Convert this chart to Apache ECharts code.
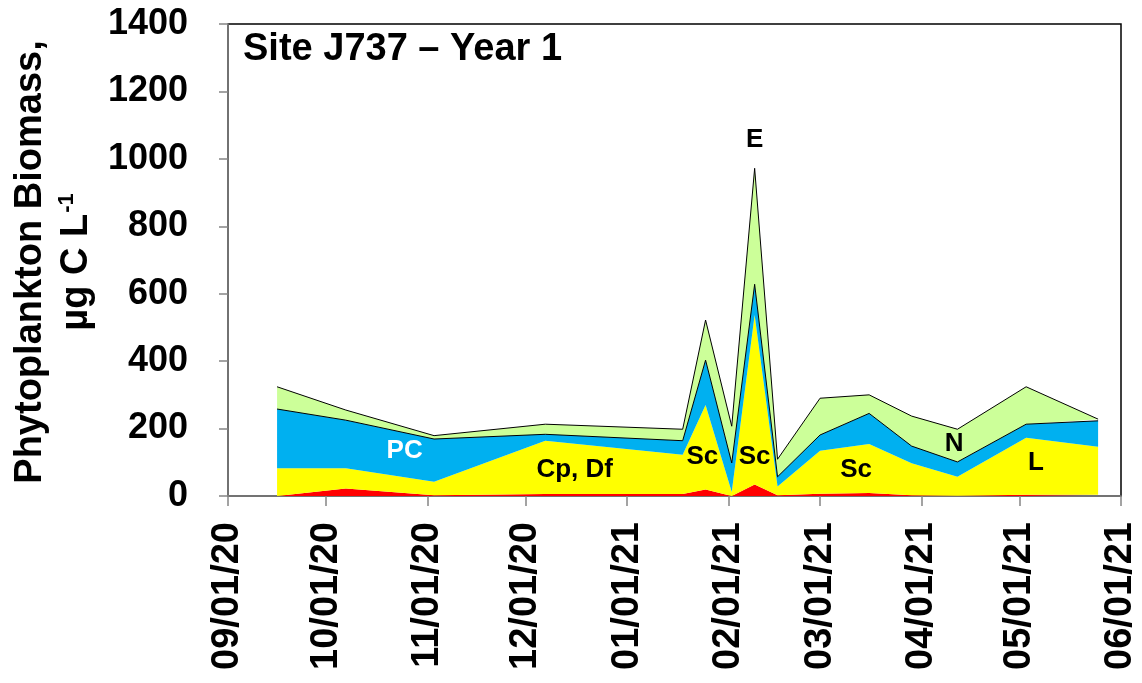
<!DOCTYPE html>
<html>
<head>
<meta charset="utf-8">
<title>Phytoplankton Biomass – Site J737 Year 1</title>
<script src="https://cdn.jsdelivr.net/npm/echarts@6/dist/echarts.min.js"></script>
<style>
  html, body { margin: 0; padding: 0; background: #fff; }
  #chart { width: 1142px; height: 683px; }
</style>
</head>
<body>
<div id="chart"></div>
<script>
// Sampling dates
const sampleDates = [
  '2020-09-16', '2020-10-07', '2020-11-03', '2020-12-07', '2021-01-18',
  '2021-01-25', '2021-02-02', '2021-02-09', '2021-02-16', '2021-03-01',
  '2021-03-16', '2021-03-29', '2021-04-12', '2021-05-03', '2021-05-25'
];

// Biomass by group, µg C L-1 (stacked bottom to top)
const redGroup    = [0, 22, 2, 6, 6, 19, 0, 34, 2, 7, 9, 2, 1, 4, 4];
const yellowGroup = [82, 60, 40, 158, 116, 251, 12, 503, 26, 127, 145, 95, 56, 169, 142];
const blueGroup   = [176, 143, 127, 19, 42, 133, 86, 91, 29, 47, 91, 51, 44, 40, 77];
const greenGroup  = [66, 30, 10, 30, 34, 119, 109, 344, 52, 109, 55, 89, 97, 111, 5];

// Dominant taxa labels: [date, biomass level, text, colour]
const taxaLabels = [
  ['2020-10-25', 133, 'PC', '#ffffff'],
  ['2020-12-16', 77, 'Cp, Df', '#000000'],
  ['2021-01-24', 116, 'Sc', '#000000'],
  ['2021-02-09', 116, 'Sc', '#000000'],
  ['2021-03-12', 77, 'Sc', '#000000'],
  ['2021-04-11', 154, 'N', '#000000'],
  ['2021-05-06', 98, 'L', '#000000'],
  ['2021-02-09', 1056, 'E', '#000000']
];

// Axis ticks
const yTicks = { min: 0, max: 1400, interval: 200 };
const monthStarts = [
  '2020-09-01', '2020-10-01', '2020-11-01', '2020-12-01', '2021-01-01',
  '2021-02-01', '2021-03-01', '2021-04-01', '2021-05-01', '2021-06-01'
];

const FONT = '"Liberation Sans", Arial, sans-serif';
const toTs = s => { const [y, m, d] = s.split('-').map(Number); return new Date(y, m - 1, d).getTime(); };
const monthTs = monthStarts.map(toTs);
const xMin = monthTs[0];
const xMax = monthTs[monthTs.length - 1];
const pad = n => (n < 10 ? '0' : '') + n;
const fmtDate = v => {
  const d = new Date(v);
  return pad(d.getMonth() + 1) + '/' + pad(d.getDate()) + '/' + pad(d.getFullYear() % 100);
};
const pairs = arr => sampleDates.map((d, i) => [toTs(d), arr[i]]);

function areaSeries(name, values, fill, outlined, z) {
  return {
    name: name,
    type: 'line',
    stack: 'biomass',
    xAxisIndex: 0,
    data: pairs(values),
    showSymbol: false,
    symbol: 'none',
    z: z,
    lineStyle: outlined ? { color: '#000', width: 1 } : { width: 0 },
    areaStyle: { color: fill, opacity: 1 },
    emphasis: { disabled: true },
    animation: false
  };
}

const chart = echarts.init(document.getElementById('chart'), null, { renderer: 'canvas' });

chart.setOption({
  animation: false,
  backgroundColor: '#ffffff',
  title: {
    text: 'Site J737 – Year 1',
    left: 238,
    top: 26,
    textStyle: { fontFamily: FONT, fontWeight: 'bold', fontSize: 38, color: '#000' }
  },
  grid: {
    left: 228, right: 21, top: 24, bottom: 187,
    show: true, borderColor: '#000', borderWidth: 1.5, backgroundColor: 'transparent'
  },
  xAxis: [
    {
      // time scale carrying the data
      type: 'time',
      position: 'bottom',
      min: xMin,
      max: xMax,
      axisLine: { show: false },
      axisTick: { show: false },
      axisLabel: { show: false },
      splitLine: { show: false }
    },
    {
      // month-start ticks and labels
      type: 'value',
      position: 'bottom',
      min: xMin,
      max: xMax,
      axisLine: { show: true, onZero: false, lineStyle: { color: '#858585', width: 1.5 } },
      axisTick: { show: true, customValues: monthTs, length: 10, inside: false,
                  lineStyle: { color: '#858585', width: 1.5 } },
      axisLabel: {
        customValues: monthTs,
        formatter: fmtDate,
        rotate: 90,
        margin: 26,
        fontFamily: FONT, fontWeight: 'bold', fontSize: 38, color: '#000'
      },
      splitLine: { show: false },
      minorTick: { show: false }
    }
  ],
  yAxis: {
    type: 'value',
    min: yTicks.min, max: yTicks.max, interval: yTicks.interval,
    axisLine: { show: true, lineStyle: { color: '#858585', width: 1.5 } },
    axisTick: { show: true, length: 9, lineStyle: { color: '#858585', width: 1.5 } },
    axisLabel: { margin: 40, formatter: v => String(v),
                 fontFamily: FONT, fontWeight: 'bold', fontSize: 36, color: '#000' },
    splitLine: { show: false }
  },
  graphic: [{
    type: 'text',
    x: 54,
    y: 262,
    rotation: Math.PI / 2,
    z: 100,
    style: {
      text: 'Phytoplankton Biomass,\n{b|µg C L}{s|-1}',
      x: 0, y: 0,
      align: 'center',
      verticalAlign: 'middle',
      fontFamily: FONT,
      fontWeight: 'bold',
      fontSize: 38,
      lineHeight: 46,
      fill: '#000',
      rich: {
        b: { fontFamily: FONT, fontWeight: 'bold', fontSize: 38, lineHeight: 46, fill: '#000' },
        s: { fontFamily: FONT, fontWeight: 'bold', fontSize: 22, lineHeight: 46, fill: '#000',
             verticalAlign: 'top', padding: [2, 0, 0, 1] }
      }
    }
  }],
  series: [
    areaSeries('Red', redGroup, '#ff0000', false, 2),
    areaSeries('Yellow', yellowGroup, '#ffff00', false, 2),
    areaSeries('Blue', blueGroup, '#00b0f0', true, 4),
    areaSeries('Green', greenGroup, '#ccff99', true, 3),
    {
      type: 'scatter',
      xAxisIndex: 0,
      z: 10,
      symbolSize: 0,
      silent: true,
      itemStyle: { opacity: 1 },
      data: taxaLabels.map(([d, v, t, c]) => ({
        value: [toTs(d), v],
        name: t,
        label: { color: c }
      })),
      label: {
        show: true,
        position: 'inside',
        formatter: p => p.name,
        color: '#000',
        opacity: 1,
        textBorderWidth: 0,
        fontFamily: FONT,
        fontWeight: 'bold',
        fontSize: 26
      },
      animation: false
    }
  ]
});
</script>
</body>
</html>
